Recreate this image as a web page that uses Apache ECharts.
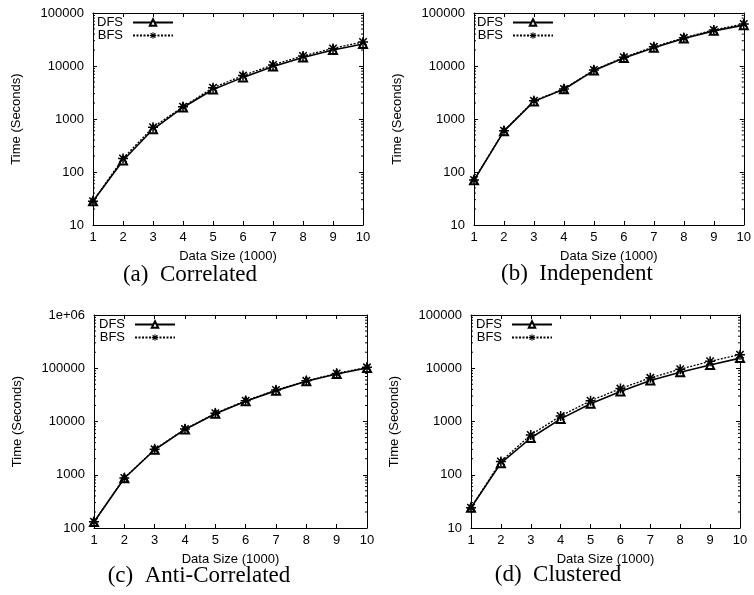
<!DOCTYPE html>
<html>
<head>
<meta charset="utf-8">
<script src="https://cdn.jsdelivr.net/npm/echarts@6/dist/echarts.min.js"></script>
<style>
html, body { margin: 0; padding: 0; background: #fff; }
#main { width: 754px; height: 595px; }
</style>
</head>
<body>
<div id="main"></div>
<script>
// data sizes (x 1000)
const sizes = [1, 2, 3, 4, 5, 6, 7, 8, 9, 10];

// time in seconds
const corrDFS = [28, 165, 640, 1650, 3600, 6100, 9800, 14500, 20000, 26000];
const corrBFS = [28, 180, 700, 1700, 3900, 6600, 10500, 15500, 21500, 28500];
const indepDFS = [70, 590, 2150, 3650, 8200, 14200, 22000, 33000, 46000, 59000];
const indepBFS = [71, 600, 2200, 3700, 8400, 14600, 23000, 34000, 48000, 62000];
const antiDFS = [130, 860, 2950, 7100, 14000, 24000, 38000, 57000, 78000, 101000];
const antiBFS = [131, 870, 3000, 7200, 14300, 24500, 39000, 58000, 80000, 104000];
const clusDFS = [24, 165, 490, 1120, 2150, 3650, 5900, 8400, 11500, 15500];
const clusBFS = [24, 178, 560, 1270, 2450, 4150, 6600, 9600, 13500, 18000];

const captions = ['(a)  Correlated', '(b)  Independent', '(c)  Anti-Correlated', '(d)  Clustered'];
const yMins = [10, 10, 100, 10];
const yMaxs = [100000, 100000, 1000000, 100000];
// minor tick multipliers inside each decade of the log axis
const minorSteps = [2, 3, 4, 5, 6, 7, 8, 9];

const panels = [
    { dfs: corrDFS, bfs: corrBFS, grid: { left: 93, top: 13, width: 270, height: 212 }, legend: { left: 97, top: 16 }, cap: { x: 190, y: 263 } },
    { dfs: indepDFS, bfs: indepBFS, grid: { left: 474, top: 13, width: 271, height: 212 }, legend: { left: 477, top: 16 }, cap: { x: 577, y: 262 } },
    { dfs: antiDFS, bfs: antiBFS, grid: { left: 94, top: 315, width: 273, height: 213 }, legend: { left: 99, top: 318 }, cap: { x: 199, y: 564 } },
    { dfs: clusDFS, bfs: clusBFS, grid: { left: 471, top: 315, width: 269, height: 213 }, legend: { left: 476, top: 318 }, cap: { x: 558, y: 563 } }
];

const asterisk = 'path://M0 6.8H16V9.2H0Z M6.8 0H9.2V16H6.8Z M1.2 2.9L2.9 1.2L14.8 13.1L13.1 14.8Z M13.1 1.2L14.8 2.9L2.9 14.8L1.2 13.1Z';
const font = 'Liberation Sans, Arial, sans-serif';

let grids = [], xAxes = [], yAxes = [], series = [], legends = [], titles = [];

panels.forEach(function (p, i) {
    grids.push(p.grid);
    let xBase = {
        type: 'value', gridIndex: i, min: 1, max: 10, interval: 1,
        axisLine: { lineStyle: { color: '#000', width: 1 } },
        axisTick: { inside: true, length: 4, lineStyle: { color: '#000' } },
        splitLine: { show: false }
    };
    xAxes.push(Object.assign({}, xBase, {
        position: 'bottom',
        name: 'Data Size (1000)', nameLocation: 'middle', nameGap: 25,
        nameTextStyle: { color: '#000', fontSize: 13, fontFamily: font },
        axisLabel: { color: '#000', fontSize: 13, fontFamily: font, margin: 6 }
    }));
    xAxes.push(Object.assign({}, xBase, { position: 'top', axisLabel: { show: false } }));

    let yBase = {
        type: 'log', logBase: 10, gridIndex: i, min: yMins[i], max: yMaxs[i],
        axisLine: { show: true, lineStyle: { color: '#000', width: 1 } },
        axisTick: { inside: true, length: 4, lineStyle: { color: '#000' } },
        splitLine: { show: false }
    };
    yAxes.push(Object.assign({}, yBase, {
        position: 'left',
        name: 'Time (Seconds)', nameLocation: 'middle', nameGap: 70,
        nameTextStyle: { color: '#000', fontSize: 13, fontFamily: font },
        axisLabel: {
            color: '#000', fontSize: 13, fontFamily: font, margin: 9,
            formatter: function (v) { return v >= 1000000 ? '1e+06' : String(v); }
        }
    }));
    yAxes.push(Object.assign({}, yBase, { position: 'right', axisLabel: { show: false } }));

    // minor ticks of the log axis, placed through the axis scale
    let minorVals = [];
    for (let d = yMins[i]; d < yMaxs[i]; d *= 10) {
        minorSteps.forEach(function (m) { minorVals.push([1, m * d]); });
    }
    series.push({
        type: 'custom', xAxisIndex: 2 * i, yAxisIndex: 2 * i, silent: true,
        data: minorVals, animation: false, z: 1,
        renderItem: function (params, api) {
            let pt = api.coord([1, api.value(1)]);
            let cs = params.coordSys;
            let st = { stroke: '#000', lineWidth: 1 };
            return {
                type: 'group',
                children: [
                    { type: 'line', shape: { x1: cs.x, y1: pt[1], x2: cs.x + 2, y2: pt[1] }, style: st },
                    { type: 'line', shape: { x1: cs.x + cs.width - 2, y1: pt[1], x2: cs.x + cs.width, y2: pt[1] }, style: st }
                ]
            };
        }
    });

    series.push({
        name: 'DFS', type: 'line', xAxisIndex: 2 * i, yAxisIndex: 2 * i,
        data: sizes.map(function (s, k) { return [s, p.dfs[k]]; }),
        symbol: 'emptyTriangle', symbolSize: 8, showAllSymbol: true,
        lineStyle: { color: '#000', width: 1.6 },
        itemStyle: { color: '#000', borderWidth: 1.2 },
        animation: false, z: 3
    });
    series.push({
        name: 'BFS', type: 'line', xAxisIndex: 2 * i, yAxisIndex: 2 * i,
        data: sizes.map(function (s, k) { return [s, p.bfs[k]]; }),
        symbol: asterisk, symbolSize: 10, showAllSymbol: true,
        lineStyle: { color: '#000', width: 1.3, type: [2, 1.5] },
        itemStyle: { color: '#000' },
        animation: false, z: 4
    });

    legends.push({
        orient: 'vertical', align: 'right', left: p.legend.left, top: p.legend.top,
        padding: 0, itemGap: 0, itemWidth: 40, itemHeight: 8,
        data: ['DFS', 'BFS'], selectedMode: false,
        textStyle: { color: '#000', fontSize: 13, fontFamily: font, padding: [0, 5, 0, 0] }
    });

    titles.push({
        text: captions[i], left: p.cap.x, top: p.cap.y, textAlign: 'center', padding: 0,
        textStyle: { color: '#000', fontSize: 23, fontWeight: 'normal', fontFamily: 'Liberation Serif, Times New Roman, serif' }
    });
});

const chart = echarts.init(document.getElementById('main'), null, { renderer: 'canvas' });
chart.setOption({
    backgroundColor: '#fff',
    animation: false,
    title: titles,
    legend: legends,
    grid: grids,
    xAxis: xAxes,
    yAxis: yAxes,
    series: series
});
</script>
</body>
</html>
